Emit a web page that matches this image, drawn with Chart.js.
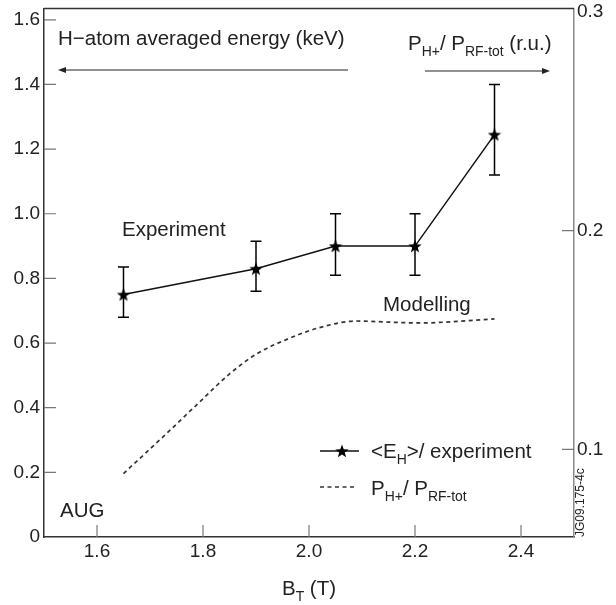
<!DOCTYPE html>
<html>
<head>
<meta charset="utf-8">
<script src="https://cdn.jsdelivr.net/npm/chart.js@4"></script>
<style>
  html, body { margin: 0; padding: 0; background: #fff; }
  canvas { display: block; }
</style>
</head>
<body>
<canvas id="chart" width="616" height="605"></canvas>
<script>
const xTicks = [1.6, 1.8, 2.0, 2.2, 2.4];
const energyTicks = [0, 0.2, 0.4, 0.6, 0.8, 1.0, 1.2, 1.4, 1.6];
const ratioTicks = [0.1, 0.2, 0.3];

// experiment: <E_H> (keV) with error bars
const bField = [1.65, 1.9, 2.05, 2.2, 2.35];
const energy = [0.75, 0.83, 0.90, 0.90, 1.245];
const energyLo = [0.68, 0.76, 0.81, 0.81, 1.12];
const energyHi = [0.835, 0.915, 1.0, 1.0, 1.4];

// modelling: P_H+ / P_RF-tot (r.u.)
const modelB = [1.65, 1.73, 1.795, 1.85, 1.9, 1.96, 2.02, 2.09, 2.15, 2.21, 2.28, 2.35];
const modelRatio = [0.089, 0.107, 0.122, 0.1345, 0.1435, 0.1505, 0.1557, 0.1587, 0.1582, 0.1578, 0.1585, 0.1597];

const FONT = '"Liberation Sans", Arial, Helvetica, sans-serif';
const INK = '#222';

function starImage(size, color) {
    const c = document.createElement('canvas');
    c.width = size;
    c.height = size;
    const g = c.getContext('2d');
    const R = size / 2, r = R * 0.42;
    g.beginPath();
    for (let i = 0; i < 10; i++) {
        const a = -Math.PI / 2 + i * Math.PI / 5;
        const rad = i % 2 ? r : R;
        g.lineTo(R + rad * Math.cos(a), R + 0.6 + rad * Math.sin(a));
    }
    g.closePath();
    g.fillStyle = color;
    g.fill();
    return c;
}

const star = starImage(14, '#000');

// text with subscripts: parts = [[text, isSub], ...]
function rich(ctx, x, y, parts, size) {
    let cx = x;
    parts.forEach(([t, sub]) => {
        const s = sub ? size * 0.68 : size;
        ctx.font = s + 'px ' + FONT;
        ctx.fillText(t, cx, sub ? y + size * 0.27 : y);
        cx += ctx.measureText(t).width;
    });
    return cx - x;
}

function richWidth(ctx, parts, size) {
    let w = 0;
    parts.forEach(([t, sub]) => {
        ctx.font = (sub ? size * 0.68 : size) + 'px ' + FONT;
        w += ctx.measureText(t).width;
    });
    return w;
}

function arrow(ctx, x1, y, x2) {
    const dir = x2 > x1 ? 1 : -1;
    ctx.beginPath();
    ctx.moveTo(x1, y);
    ctx.lineTo(x2 - dir * 6, y);
    ctx.stroke();
    ctx.beginPath();
    ctx.moveTo(x2, y);
    ctx.lineTo(x2 - dir * 8, y - 3);
    ctx.lineTo(x2 - dir * 8, y + 3);
    ctx.closePath();
    ctx.fill();
}

const decor = {
    id: 'decor',
    beforeDatasetsDraw(chart) {
        const ctx = chart.ctx;
        const x = chart.scales.x, y = chart.scales.y;
        ctx.save();
        ctx.strokeStyle = '#000';
        ctx.lineWidth = 1.5;
        bField.forEach((b, i) => {
            const px = x.getPixelForValue(b);
            const lo = y.getPixelForValue(energyLo[i]);
            const hi = y.getPixelForValue(energyHi[i]);
            ctx.beginPath();
            ctx.moveTo(px, lo); ctx.lineTo(px, hi);
            ctx.moveTo(px - 5.5, lo); ctx.lineTo(px + 5.5, lo);
            ctx.moveTo(px - 5.5, hi); ctx.lineTo(px + 5.5, hi);
            ctx.stroke();
        });
        ctx.restore();
    },
    afterDraw(chart) {
        const ctx = chart.ctx;
        const area = chart.chartArea;
        const {x, y, y2} = chart.scales;
        ctx.save();

        // inward tick marks
        ctx.strokeStyle = '#777';
        ctx.lineWidth = 1.2;
        ctx.beginPath();
        xTicks.forEach(v => {
            const p = x.getPixelForValue(v);
            ctx.moveTo(p, area.bottom); ctx.lineTo(p, area.bottom - 12);
        });
        energyTicks.slice(1).forEach(v => {
            const p = y.getPixelForValue(v);
            ctx.moveTo(area.left, p); ctx.lineTo(area.left + 12, p);
        });
        ratioTicks.slice(0, 2).forEach(v => {
            const p = y2.getPixelForValue(v);
            ctx.moveTo(area.right - 12, p); ctx.lineTo(area.right, p);
        });
        ctx.stroke();

        // top frame line
        ctx.strokeStyle = '#333';
        ctx.lineWidth = 1.5;
        ctx.beginPath();
        ctx.moveTo(area.left, area.top);
        ctx.lineTo(area.right, area.top);
        ctx.stroke();

        ctx.fillStyle = INK;
        ctx.strokeStyle = INK;
        ctx.lineWidth = 1.2;
        ctx.textBaseline = 'alphabetic';
        ctx.textAlign = 'left';

        // axis headers with arrows
        rich(ctx, 58, 45, [['H\u2212atom averaged energy (keV)', 0]], 20.5);
        arrow(ctx, 348, 70, 58);
        rich(ctx, 408, 50, [['P', 0], ['H+', 1], ['/ P', 0], ['RF-tot', 1], [' (r.u.)', 0]], 20.5);
        arrow(ctx, 425, 71, 550);

        rich(ctx, 122, 236, [['Experiment', 0]], 20.5);
        rich(ctx, 383, 311, [['Modelling', 0]], 20.5);
        rich(ctx, 60, 517, [['AUG', 0]], 20.5);

        // legend
        const ds0 = chart.data.datasets[0], ds1 = chart.data.datasets[1];
        ctx.strokeStyle = ds0.borderColor;
        ctx.lineWidth = ds0.borderWidth;
        ctx.beginPath(); ctx.moveTo(320, 451); ctx.lineTo(359, 451); ctx.stroke();
        ctx.drawImage(star, 342 - star.width / 2, 451 - star.height / 2);
        ctx.strokeStyle = ds1.borderColor;
        ctx.lineWidth = ds1.borderWidth;
        ctx.setLineDash(ds1.borderDash);
        ctx.beginPath(); ctx.moveTo(320, 487); ctx.lineTo(357, 487); ctx.stroke();
        ctx.setLineDash([]);
        ctx.fillStyle = INK;
        rich(ctx, 371, 458, [['<E', 0], ['H', 1], ['>/ experiment', 0]], 20.5);
        rich(ctx, 371, 495, [['P', 0], ['H+', 1], ['/ P', 0], ['RF-tot', 1]], 20.5);

        // x axis title
        const title = [['B', 0], ['T', 1], [' (T)', 0]];
        const tw = richWidth(ctx, title, 20.5);
        rich(ctx, (area.left + area.right) / 2 - tw / 2, 595, title, 20.5);

        // figure id
        ctx.save();
        ctx.translate(584, 537);
        ctx.rotate(-Math.PI / 2);
        ctx.font = '12px ' + FONT;
        ctx.fillText('JG09.175-4c', 0, 0);
        ctx.restore();

        ctx.restore();
    }
};

function fmt(v) {
    return v === 0 ? '0' : v.toFixed(1);
}

function noPad(s) {
    s.paddingTop = 0;
    s.paddingBottom = 0;
    s.paddingLeft = 0;
    s.paddingRight = 0;
}

new Chart(document.getElementById('chart'), {
    type: 'line',
    data: {
        datasets: [
            {
                label: '<E_H>/ experiment',
                data: bField.map((b, i) => ({x: b, y: energy[i]})),
                yAxisID: 'y',
                borderColor: '#111',
                borderWidth: 1.5,
                pointStyle: star,
                pointRadius: 7,
                tension: 0,
                fill: false
            },
            {
                label: 'P_H+/ P_RF-tot',
                data: modelB.map((b, i) => ({x: b, y: modelRatio[i]})),
                yAxisID: 'y2',
                borderColor: '#333',
                borderWidth: 1.7,
                borderDash: [4, 3.5],
                pointRadius: 0,
                cubicInterpolationMode: 'monotone',
                fill: false
            }
        ]
    },
    options: {
        responsive: false,
        animation: false,
        layout: { padding: { top: 8, left: 0, right: 0, bottom: 0 } },
        plugins: {
            legend: { display: false },
            tooltip: { enabled: false }
        },
        scales: {
            x: {
                type: 'linear',
                min: 1.5,
                max: 2.5,
                afterBuildTicks: s => { s.ticks = xTicks.map(v => ({value: v})); },
                afterFit: s => { s.height = 68; noPad(s); },
                grid: { drawOnChartArea: false, drawTicks: false },
                border: { display: true, color: '#333', width: 1.5 },
                ticks: { padding: 3, color: INK, font: { family: FONT, size: 19 }, callback: fmt, maxRotation: 0 }
            },
            y: {
                type: 'linear',
                position: 'left',
                min: 0,
                max: 1.635,
                afterBuildTicks: s => { s.ticks = energyTicks.map(v => ({value: v})); },
                afterFit: s => { s.width = 44; noPad(s); },
                grid: { drawOnChartArea: false, drawTicks: false },
                border: { display: true, color: '#333', width: 1.5 },
                ticks: { padding: 4, color: INK, font: { family: FONT, size: 19 }, callback: fmt }
            },
            y2: {
                type: 'linear',
                position: 'right',
                min: 0.06,
                max: 0.3015,
                afterBuildTicks: s => { s.ticks = ratioTicks.map(v => ({value: v})); },
                afterFit: s => { s.width = 42; noPad(s); },
                grid: { drawOnChartArea: false, drawTicks: false },
                border: { display: true, color: '#8a8a8a', width: 1.5 },
                ticks: { padding: 3, color: INK, font: { family: FONT, size: 19 }, callback: fmt }
            }
        }
    },
    plugins: [decor]
});
</script>
</body>
</html>
